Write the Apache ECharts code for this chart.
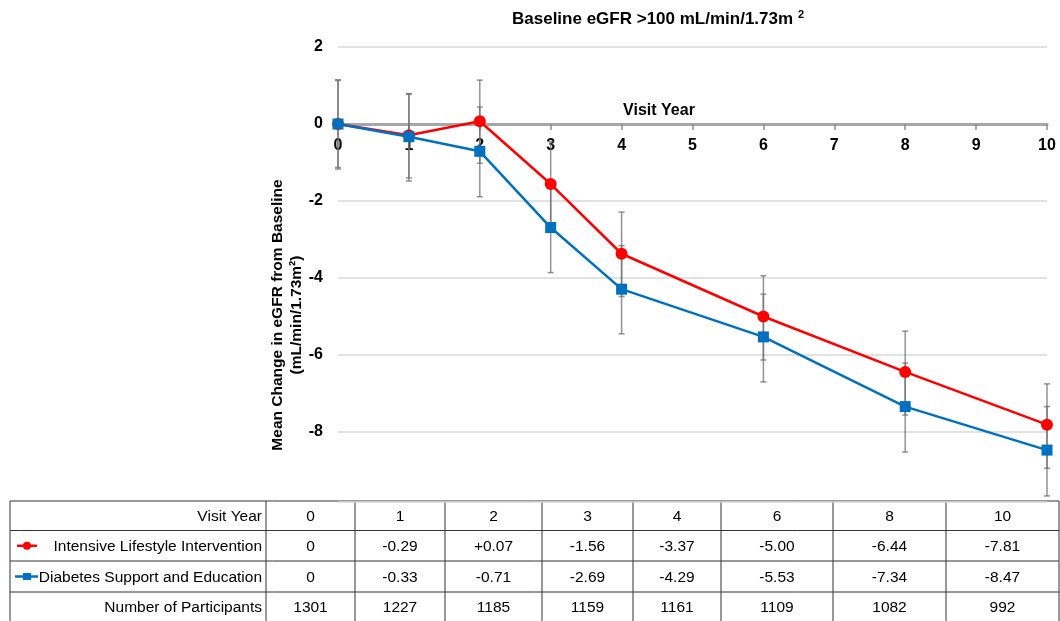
<!DOCTYPE html>
<html><head><meta charset="utf-8">
<script src="https://cdn.jsdelivr.net/npm/echarts@6/dist/echarts.min.js"></script>
<style>html,body{margin:0;padding:0;background:#fff}#c{width:1060px;height:621px}</style>
</head><body><div id="c"></div>
<script>
// ---------- data ----------
const titleText = 'Baseline eGFR >100 mL/min/1.73m';
const titleSup = '2';
const xAxisName = 'Visit Year';
const yAxisName = 'Mean Change in eGFR from Baseline\n(mL/min/1.73m\u00B2)';
const visitYears = [0, 1, 2, 3, 4, 6, 8, 10];
const seriesNames = ['Intensive Lifestyle Intervention', 'Diabetes Support and Education'];
const iliMean = [0, -0.29, 0.07, -1.56, -3.37, -5.00, -6.44, -7.81];
const dseMean = [0, -0.33, -0.71, -2.69, -4.29, -5.53, -7.34, -8.47];
const iliLow  = [-1.13, -1.40, -1.02, -2.66, -4.48, -6.13, -7.56, -8.94];
const iliHigh = [1.13, 0.79, 1.14, -0.46, -2.29, -3.94, -5.38, -6.75];
const dseLow  = [-1.17, -1.48, -1.89, -3.86, -5.45, -6.70, -8.52, -9.66];
const dseHigh = [1.15, 0.77, 0.44, -1.52, -3.16, -4.42, -6.21, -7.34];
const participants = [1301, 1227, 1185, 1159, 1161, 1109, 1082, 992];
const rowHeaders = ['Visit Year', seriesNames[0], seriesNames[1], 'Number of Participants'];

// ---------- styles / layout ----------
const FONT = "'Liberation Sans', Arial, sans-serif";
const RED = '#ff0000', BLUE = '#0070c0';
const colX = [10, 266, 355, 445, 542, 633, 721, 833, 946, 1059];
const rowY = [501, 530.5, 561, 592, 622];

const chart = echarts.init(document.getElementById('c'), null, {renderer: 'canvas'});

function fmt(v) { return v === 0 ? '0' : (v > 0 ? '+' : '') + v.toFixed(2); }

function errRender(params, api) {
  const x = api.value(0), lo = api.value(1), hi = api.value(2);
  const p1 = api.coord([x, hi]), p2 = api.coord([x, lo]);
  const w = 3;
  const style = {stroke: '#6f6f6f', lineWidth: 1.5, opacity: 0.75};
  return {type: 'group', children: [
    {type: 'line', shape: {x1: p1[0], y1: p1[1], x2: p2[0], y2: p2[1]}, style: style},
    {type: 'line', shape: {x1: p1[0] - w, y1: p1[1], x2: p1[0] + w, y2: p1[1]}, style: style},
    {type: 'line', shape: {x1: p2[0] - w, y1: p2[1], x2: p2[0] + w, y2: p2[1]}, style: style}
  ]};
}

// table graphics
const tableEls = [];
const L = colX[0], R = colX[colX.length - 1];
rowY.forEach(function (y) {
  tableEls.push({type: 'line', shape: {x1: L, y1: y, x2: R, y2: y}, style: {stroke: '#333', lineWidth: 1}, silent: true});
});
colX.forEach(function (x) {
  tableEls.push({type: 'line', shape: {x1: x, y1: rowY[0], x2: x, y2: rowY[rowY.length - 1]}, style: {stroke: '#333', lineWidth: 1}, silent: true});
});
const rows = [
  visitYears.map(String),
  iliMean.map(fmt),
  dseMean.map(fmt),
  participants.map(String)
];
rows.forEach(function (cells, r) {
  const cy = (rowY[r] + rowY[r + 1]) / 2 + 1;
  tableEls.push({type: 'text', x: colX[1] - 4, y: cy, silent: true,
    style: {text: rowHeaders[r], fontSize: 15.5, fontFamily: FONT, fill: '#000', align: 'right', verticalAlign: 'middle'}});
  cells.forEach(function (t, c) {
    tableEls.push({type: 'text', x: (colX[c + 1] + colX[c + 2]) / 2, y: cy, silent: true,
      style: {text: t, fontSize: 15.5, fontFamily: FONT, fill: '#000', align: 'center', verticalAlign: 'middle'}});
  });
});
// legend icons inside table
const r1 = (rowY[1] + rowY[2]) / 2, r2 = (rowY[2] + rowY[3]) / 2;
tableEls.push({type: 'line', shape: {x1: 17, y1: r1, x2: 37, y2: r1}, style: {stroke: RED, lineWidth: 2.5}});
tableEls.push({type: 'circle', shape: {cx: 27, cy: r1, r: 4}, style: {fill: RED}});
tableEls.push({type: 'line', shape: {x1: 15, y1: r2, x2: 38, y2: r2}, style: {stroke: BLUE, lineWidth: 2.5}});
tableEls.push({type: 'rect', shape: {x: 23, y: r2 - 3.5, width: 8, height: 7}, style: {fill: BLUE}});

// y axis name
tableEls.push({type: 'text', x: 287, y: 315, rotation: Math.PI / 2, silent: true,
  style: {text: yAxisName, fontSize: 15.5, fontWeight: 'bold', fontFamily: FONT, fill: '#000',
    align: 'center', verticalAlign: 'middle', lineHeight: 19}});

const option = {
  backgroundColor: '#fff',
  animation: false,
  title: {
    text: '{a|' + titleText + '} {b|' + titleSup + '}',
    left: 507, top: 4,
    textStyle: {rich: {
      a: {fontSize: 17, fontWeight: 'bold', fontFamily: FONT, color: '#000'},
      b: {fontSize: 11, fontWeight: 'bold', fontFamily: FONT, color: '#000', padding: [0, 0, 9, 0]}
    }}
  },
  grid: {left: 338, right: 13, top: 47, bottom: 119.7, containLabel: false},
  xAxis: {
    type: 'value', min: 0, max: 10, interval: 1, position: 'bottom', offset: 0,
    name: xAxisName, nameLocation: 'middle', nameGap: -21,
    nameTextStyle: {fontSize: 16, fontWeight: 'bold', fontFamily: FONT, color: '#000', padding: [0, 67, 0, 0]},
    axisLine: {onZero: false, lineStyle: {color: '#a6a6a6', width: 3}},
    axisTick: {show: true, length: 6, lineStyle: {color: '#8c8c8c', width: 1.5}},
    axisLabel: {fontSize: 16, fontWeight: 'bold', fontFamily: FONT, color: '#000', margin: 14},
    splitLine: {show: false}
  },
  yAxis: {
    type: 'value', min: -9.8, max: 2, splitNumber: 5,
    axisLine: {show: false}, axisTick: {show: false},
    axisLabel: {fontSize: 16, fontWeight: 'bold', fontFamily: FONT, color: '#000', margin: 15,
      showMinLabel: false, padding: [5, 0, 0, 0]},
    splitLine: {show: true, lineStyle: {color: '#d9d9d9', width: 1.5}}
  },
  graphic: tableEls,
  series: [
    {type: 'custom', name: 'ILI CI', renderItem: errRender, clip: false, z: 1,
      encode: {x: 0, y: [1, 2]},
      data: visitYears.map(function (x, i) { return [x, iliLow[i], iliHigh[i]]; })},
    {type: 'custom', name: 'DSE CI', renderItem: errRender, clip: false, z: 1,
      encode: {x: 0, y: [1, 2]},
      data: visitYears.map(function (x, i) { return [x, dseLow[i], dseHigh[i]]; })},
    {type: 'line', name: seriesNames[0], z: 3,
      data: visitYears.map(function (x, i) { return [x, iliMean[i]]; }),
      symbol: 'circle', symbolSize: 12, lineStyle: {color: RED, width: 2.5}, itemStyle: {color: RED}},
    {type: 'line', name: seriesNames[1], z: 4,
      data: visitYears.map(function (x, i) { return [x, dseMean[i]]; }),
      symbol: 'rect', symbolSize: 11, lineStyle: {color: BLUE, width: 2.5}, itemStyle: {color: BLUE}}
  ]
};
chart.setOption(option);
// move the x axis (line, ticks, labels, name) up onto y = 0
const yZero = chart.convertToPixel({yAxisIndex: 0}, 0);
const yBottom = chart.convertToPixel({yAxisIndex: 0}, -9.8);
chart.setOption({xAxis: {offset: -(yBottom - yZero)}});
</script></body></html>
